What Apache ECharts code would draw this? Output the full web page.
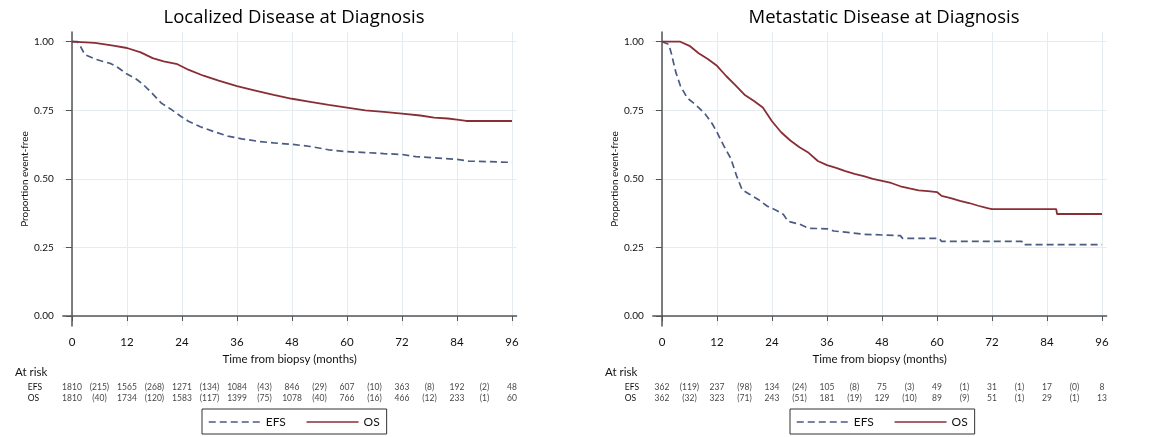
<!DOCTYPE html>
<html lang="en" style="height: 100%">
<head>
<meta charset="utf-8">
<title>EFS and OS by disease stage</title>
</head>
<body style="height: 100%; margin: 0; background: #fff">
<div id="container" style="width: 1165px; height: 437px"></div>

<script type="text/javascript" src="https://cdn.jsdelivr.net/npm/echarts/dist/echarts.min.js"></script>

<script type="text/javascript">
var dom = document.getElementById('container');
var myChart = echarts.init(dom, null, { renderer: 'canvas' });

// x ticks (months) and y ticks (proportion)
var monthTicks = [0, 12, 24, 36, 48, 60, 72, 84, 96];
var propTicks = [0, 0.25, 0.5, 0.75, 1];

// Localized disease curves
var locEfsT = [0, 1.2, 1.8, 2.8, 5, 7, 8.5, 10, 12, 14, 15.6, 17.6, 19.5, 21.5, 23.5, 25.4, 28, 31, 34, 37, 41, 44, 48, 52, 56, 60, 64, 68, 72, 75, 79, 84, 86.5, 96];
var locEfsS = [1, 1, 0.985, 0.953, 0.937, 0.927, 0.92, 0.906, 0.882, 0.864, 0.843, 0.81, 0.776, 0.755, 0.731, 0.71, 0.69, 0.672, 0.656, 0.646, 0.636, 0.631, 0.626, 0.618, 0.606, 0.599, 0.596, 0.592, 0.589, 0.581, 0.577, 0.571, 0.565, 0.56];
var locOsT = [0, 5, 9, 12, 15, 17.6, 20, 23, 25.5, 28.7, 32, 36, 40, 44, 48, 52, 56, 60, 64, 68, 72, 76, 79, 82, 84, 86, 96];
var locOsS = [1, 0.996, 0.986, 0.977, 0.961, 0.94, 0.928, 0.918, 0.897, 0.876, 0.858, 0.838, 0.822, 0.806, 0.792, 0.781, 0.77, 0.76, 0.75, 0.744, 0.738, 0.731, 0.723, 0.72, 0.716, 0.711, 0.711];

// Metastatic disease curves
var metEfsT = [0, 1.5, 2, 3, 4, 5.5, 7, 8, 9.5, 11, 12, 13.5, 15, 16.3, 17.5, 19, 21, 23, 25, 26.5, 27.5, 30, 32, 36, 37.5, 40.5, 44, 44.2, 52, 52.5, 60.5, 61, 78.5, 78.8, 96];
var metEfsS = [1, 0.99, 0.96, 0.89, 0.84, 0.795, 0.775, 0.76, 0.735, 0.7, 0.67, 0.62, 0.575, 0.51, 0.46, 0.445, 0.425, 0.4, 0.385, 0.37, 0.345, 0.335, 0.32, 0.318, 0.31, 0.305, 0.298, 0.293, 0.293, 0.283, 0.283, 0.272, 0.272, 0.26, 0.26];
var metOsT = [0, 4, 6, 8, 10, 12, 14, 16, 18, 20, 22, 24, 26, 28, 30, 32, 34, 36, 38, 40, 42, 44, 46, 48, 50, 52, 54, 56, 58, 60, 61, 63, 65, 67, 69, 71, 72, 86, 86.2, 96];
var metOsS = [1, 1, 0.985, 0.958, 0.937, 0.912, 0.875, 0.842, 0.807, 0.785, 0.76, 0.71, 0.67, 0.64, 0.615, 0.595, 0.565, 0.55, 0.54, 0.528, 0.518, 0.51, 0.5, 0.493, 0.485, 0.473, 0.465, 0.458, 0.455, 0.452, 0.438, 0.43, 0.42, 0.412, 0.402, 0.393, 0.39, 0.39, 0.372, 0.372];

// Numbers at risk (every 12 months) and events in between
var riskT = [0, 6, 12, 18, 24, 30, 36, 42, 48, 54, 60, 66, 72, 78, 84, 90, 96];
var locEfsRisk = [1810, 1565, 1271, 1084, 846, 607, 363, 192, 48];
var locEfsEvents = [215, 268, 134, 43, 29, 10, 8, 2];
var locOsRisk = [1810, 1734, 1583, 1399, 1078, 766, 466, 233, 60];
var locOsEvents = [40, 120, 117, 75, 40, 16, 12, 1];
var metEfsRisk = [362, 237, 134, 105, 75, 49, 31, 17, 8];
var metEfsEvents = [119, 98, 24, 8, 3, 1, 1, 0];
var metOsRisk = [362, 323, 243, 181, 129, 89, 51, 29, 13];
var metOsEvents = [32, 71, 51, 19, 10, 9, 1, 1];

var efsColor = '#4b5b82';
var osColor = '#8a2e36';
var gridColor = '#e4ecf0';
var axisColor = '#555';
var font = 'Lato, "Open Sans", sans-serif';

function zip(t, s) {
    return t.map(function (v, i) { return [v, s[i]]; });
}

function riskRow(rowName, risk, events) {
    return riskT.map(function (t, i) {
        var txt = i % 2 === 0 ? String(risk[i / 2]) : '(' + events[(i - 1) / 2] + ')';
        return [t, rowName, txt];
    });
}

var panels = [
    { title: 'Localized Disease at Diagnosis', left: 62.8, risk: [locEfsRisk, locEfsEvents, locOsRisk, locOsEvents], efs: zip(locEfsT, locEfsS), os: zip(locOsT, locOsS), rowMargin: 35, legendLeft: 202, riskLeft: 15 },
    { title: 'Metastatic Disease at Diagnosis', left: 652.8, risk: [metEfsRisk, metEfsEvents, metOsRisk, metOsEvents], efs: zip(metEfsT, metEfsS), os: zip(metOsT, metOsS), rowMargin: 28, legendLeft: 790, riskLeft: 605 }
];

var plotWidth = 453.8;
var grids = [], xAxes = [], yAxes = [], series = [], titles = [], legends = [], graphics = [];

panels.forEach(function (p, k) {
    var main = 2 * k, table = 2 * k + 1;

    titles.push({
        text: p.title,
        left: p.left + 9.2 + 222,
        top: 8,
        padding: 0,
        textAlign: 'center',
        textStyle: { fontFamily: '"Open Sans", sans-serif', fontSize: 18.5, fontWeight: 'normal', color: '#000' }
    });

    // main plot grid
    grids.push({ left: p.left, top: 32.1, width: plotWidth, height: 293.8 });
    xAxes.push({
        gridIndex: main, type: 'value', min: -2, max: 97,
        name: 'Time from biopsy (months)', nameLocation: 'middle', nameGap: 22,
        nameTextStyle: { fontFamily: font, fontSize: 11.5, color: '#111' },
        axisLine: { show: true, lineStyle: { color: axisColor, width: 1.5 } },
        axisTick: { show: true, length: 5, customValues: monthTicks, lineStyle: { color: axisColor } },
        axisLabel: { customValues: monthTicks, margin: 10, fontFamily: font, fontSize: 11.5, color: '#111' },
        splitLine: { show: true, lineStyle: { color: gridColor } }
    });
    yAxes.push({
        gridIndex: main, type: 'value', min: -0.036, max: 1.035,
        name: 'Proportion event-free', nameLocation: 'middle', nameGap: 33, nameRotate: 90,
        nameTextStyle: { fontFamily: font, fontSize: 10, color: '#111' },
        axisLine: { show: true, lineStyle: { color: axisColor, width: 1.5 } },
        axisTick: { show: true, length: 6, customValues: propTicks, lineStyle: { color: axisColor } },
        axisLabel: { customValues: propTicks, margin: 9, fontFamily: font, fontSize: 10, color: '#111',
            formatter: function (v) { return v.toFixed(2); } },
        splitLine: { show: true, lineStyle: { color: gridColor } }
    });

    // at-risk table grid
    grids.push({ left: p.left, top: 381.5, width: plotWidth, height: 22 });
    xAxes.push({ gridIndex: table, type: 'value', min: -2, max: 97, show: false });
    yAxes.push({
        gridIndex: table, type: 'category', data: ['EFS', 'OS'], inverse: true,
        axisLine: { show: false }, axisTick: { show: false }, splitLine: { show: false },
        axisLabel: { interval: 0, hideOverlap: false, align: 'left', margin: p.rowMargin, fontFamily: font, fontSize: 8.5, color: '#111' }
    });

    series.push({
        name: 'EFS', type: 'line', xAxisIndex: main, yAxisIndex: main, data: p.efs,
        showSymbol: false, symbol: 'none',
        lineStyle: { color: efsColor, width: 1.7, type: [7, 4] },
        itemStyle: { color: efsColor }
    });
    series.push({
        name: 'OS', type: 'line', xAxisIndex: main, yAxisIndex: main, data: p.os,
        showSymbol: false, symbol: 'none',
        lineStyle: { color: osColor, width: 1.8 },
        itemStyle: { color: osColor }
    });
    series.push({
        name: 'risk' + k, type: 'scatter', xAxisIndex: table, yAxisIndex: table,
        data: riskRow('EFS', p.risk[0], p.risk[1]).concat(riskRow('OS', p.risk[2], p.risk[3])),
        symbolSize: 0, silent: true,
        label: { show: true, position: 'inside', formatter: function (d) { return d.value[2]; },
            fontFamily: font, fontSize: 8.5, color: '#111' }
    });

    legends.push({
        data: ['EFS', 'OS'], left: p.legendLeft, top: 409, orient: 'horizontal',
        itemWidth: 52, itemHeight: 10, itemGap: 20,
        padding: [7, 7, 6, 6],
        borderColor: '#333', borderWidth: 1, borderRadius: 0,
        selectedMode: false,
        itemStyle: { opacity: 0 },
        lineStyle: { width: 1.5 },
        textStyle: { fontFamily: font, fontSize: 12, color: '#111' }
    });

    graphics.push({
        type: 'text', left: p.riskLeft, top: 366,
        style: { text: 'At risk', font: '11.5px ' + font, fill: '#111' }
    });
});

var option = {
    animation: false,
    backgroundColor: '#fff',
    title: titles,
    legend: legends,
    grid: grids,
    xAxis: xAxes,
    yAxis: yAxes,
    series: series,
    graphic: graphics
};

myChart.setOption(option);
window.addEventListener('resize', myChart.resize);
</script>
</body>
</html>
